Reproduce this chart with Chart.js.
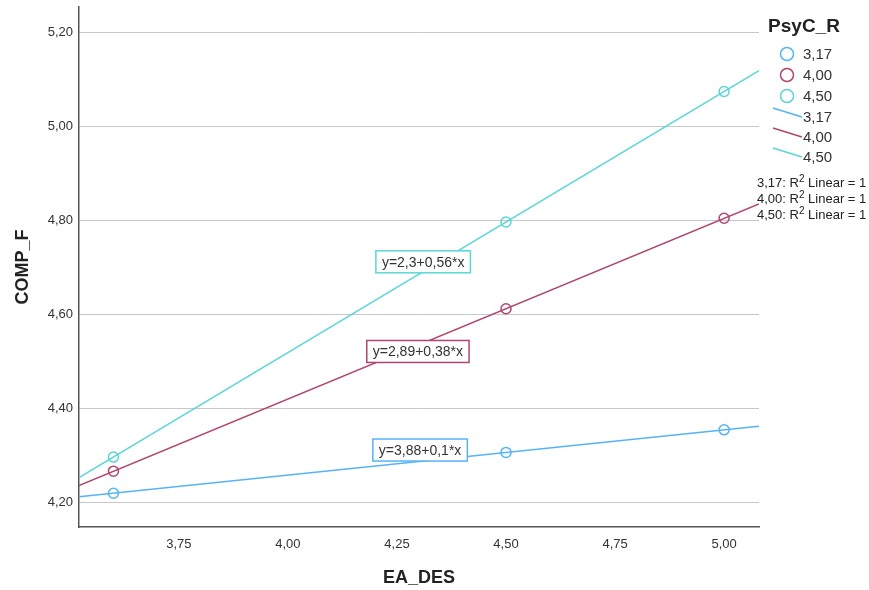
<!DOCTYPE html>
<html>
<head>
<meta charset="utf-8">
<script src="https://cdn.jsdelivr.net/npm/chart.js@4/dist/chart.umd.min.js"></script>
<style>
  html, body { margin: 0; padding: 0; background: #fff; }
  #wrap { width: 869px; height: 590px; }
</style>
</head>
<body>
<div id="wrap"><canvas id="chart"></canvas></div>
<script>
// Dữ liệu
const groups = ['3,17', '4,00', '4,50'];
const eaDes = [3.60, 4.50, 5.00];
const comp317 = [4.219, 4.306, 4.354];
const comp400 = [4.266, 4.612, 4.805];
const comp450 = [4.296, 4.797, 5.075];
const equations = ['y=3,88+0,1*x', 'y=2,89+0,38*x', 'y=2,3+0,56*x'];
const xTicks = [3.75, 4.00, 4.25, 4.50, 4.75, 5.00];
const yTicks = [4.20, 4.40, 4.60, 4.80, 5.00, 5.20];

const colors = ['#55b4f6', '#b0466f', '#5ad6d6'];
const X_MIN = 3.521, X_MAX = 5.08;
const Y_MIN = 4.147, Y_MAX = 5.255;
// vị trí nhãn phương trình (toạ độ dữ liệu)
const eqPos = [[4.303, 4.311], [4.298, 4.521], [4.310, 4.712]];

const FONT = 'Arial, "Liberation Sans", sans-serif';
const fmt = v => Number(v).toFixed(2).replace('.', ',');

// đường hồi quy tuyến tính
function fitLine(xs, ys) {
  const n = xs.length;
  const mx = xs.reduce((a, b) => a + b, 0) / n;
  const my = ys.reduce((a, b) => a + b, 0) / n;
  let sxy = 0, sxx = 0;
  for (let i = 0; i < n; i++) {
    sxy += (xs[i] - mx) * (ys[i] - my);
    sxx += (xs[i] - mx) * (xs[i] - mx);
  }
  const b = sxy / sxx;
  const a = my - b * mx;
  return [{ x: X_MIN, y: a + b * X_MIN }, { x: X_MAX, y: a + b * X_MAX }];
}

const series = [comp317, comp400, comp450];
const datasets = [];
series.forEach((ys, i) => {
  datasets.push({
    type: 'scatter',
    label: groups[i],
    data: eaDes.map((x, j) => ({ x: x, y: ys[j] })),
    borderColor: colors[i],
    backgroundColor: 'transparent',
    pointRadius: 5,
    pointBorderWidth: 1.5,
    order: 0
  });
});
series.forEach((ys, i) => {
  datasets.push({
    type: 'line',
    label: groups[i],
    data: fitLine(eaDes, ys),
    borderColor: colors[i],
    borderWidth: 1.5,
    pointRadius: 0,
    fill: false,
    order: 1
  });
});

const overlay = {
  id: 'overlay',
  afterDatasetsDraw(chart) {
    const ctx = chart.ctx;
    const xs = chart.scales.x, ys = chart.scales.y;
    ctx.save();
    // hộp phương trình
    ctx.font = '14px ' + FONT;
    ctx.textAlign = 'center';
    ctx.textBaseline = 'middle';
    equations.forEach((t, i) => {
      const cx = xs.getPixelForValue(eqPos[i][0]);
      const cy = ys.getPixelForValue(eqPos[i][1]);
      const w = ctx.measureText(t).width + 12;
      const h = 22;
      ctx.fillStyle = '#fff';
      ctx.fillRect(cx - w / 2, cy - h / 2, w, h);
      ctx.strokeStyle = colors[i];
      ctx.lineWidth = 1.5;
      ctx.strokeRect(cx - w / 2, cy - h / 2, w, h);
      ctx.fillStyle = '#333';
      ctx.fillText(t, cx, cy + 1);
    });
    ctx.restore();
  },
  afterDraw(chart) {
    const ctx = chart.ctx;
    ctx.save();
    ctx.fillStyle = '#222';
    ctx.textBaseline = 'middle';
    ctx.textAlign = 'center';
    ctx.font = 'bold 19px ' + FONT;
    ctx.fillText('PsyC_R', 804, 27);

    ctx.textAlign = 'left';
    ctx.font = '15px ' + FONT;
    groups.forEach((g, i) => {
      const y = 54 + 21 * i;
      ctx.beginPath();
      ctx.arc(787, y, 6.5, 0, Math.PI * 2);
      ctx.strokeStyle = colors[i];
      ctx.lineWidth = 1.5;
      ctx.stroke();
      ctx.fillStyle = '#333';
      ctx.fillText(g, 803, y + 1);
    });
    groups.forEach((g, i) => {
      const y = 117 + 20 * i;
      ctx.beginPath();
      ctx.moveTo(773, y - 9);
      ctx.lineTo(802, y);
      ctx.strokeStyle = colors[i];
      ctx.lineWidth = 1.5;
      ctx.stroke();
      ctx.fillStyle = '#333';
      ctx.fillText(g, 803, y + 1);
    });

    // R² Linear
    groups.forEach((g, i) => {
      const y = 183 + 16 * i;
      let x = 757;
      ctx.fillStyle = '#222';
      ctx.font = '13px ' + FONT;
      const t1 = g + ': R';
      ctx.fillText(t1, x, y);
      x += ctx.measureText(t1).width;
      ctx.font = '10px ' + FONT;
      ctx.fillText('2', x, y - 4);
      x += ctx.measureText('2').width;
      ctx.font = '13px ' + FONT;
      ctx.fillText(' Linear = 1', x, y);
    });
    ctx.restore();
  }
};

new Chart(document.getElementById('chart'), {
  data: { datasets: datasets },
  options: {
    responsive: true,
    maintainAspectRatio: false,
    animation: false,
    layout: { padding: { top: 7, right: 110, left: 0, bottom: 0 } },
    plugins: {
      legend: { display: false },
      tooltip: { enabled: false }
    },
    scales: {
      x: {
        type: 'linear',
        min: X_MIN,
        max: X_MAX,
        afterBuildTicks: s => { s.ticks = xTicks.map(v => ({ value: v })); },
        afterFit: s => { s.height = 63; s.paddingLeft = 0; s.paddingRight = 0; },
        ticks: {
          callback: v => fmt(v),
          color: '#333',
          font: { family: FONT, size: 13 },
          padding: 10,
          maxRotation: 0
        },
        grid: { display: false, drawTicks: false },
        border: { display: true, color: '#555', width: 1.5 },
        title: {
          display: true,
          text: 'EA_DES',
          color: '#222',
          font: { family: FONT, size: 18, weight: 'bold' },
          padding: { top: 0, bottom: 1 }
        }
      },
      y: {
        type: 'linear',
        min: Y_MIN,
        max: Y_MAX,
        afterBuildTicks: s => { s.ticks = yTicks.map(v => ({ value: v })); },
        afterFit: s => { s.width = 79; s.paddingTop = 0; s.paddingBottom = 0; },
        ticks: {
          callback: v => fmt(v),
          color: '#333',
          font: { family: FONT, size: 13 },
          padding: 6
        },
        grid: { color: '#c8c8c8', lineWidth: 1, drawTicks: false },
        border: { display: true, color: '#555', width: 1.5 },
        title: {
          display: true,
          text: 'COMP_F',
          color: '#222',
          font: { family: FONT, size: 18, weight: 'bold' },
          padding: { top: 12, bottom: 0 }
        }
      }
    }
  },
  plugins: [overlay]
});
</script>
</body>
</html>
